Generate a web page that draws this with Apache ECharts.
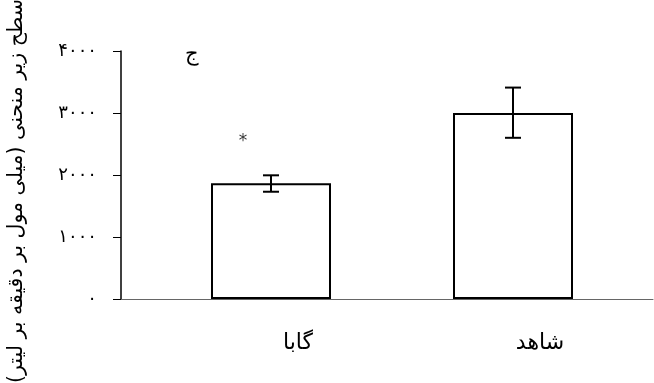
<!DOCTYPE html>
<html><head><meta charset="utf-8">
<script src="https://cdn.jsdelivr.net/npm/echarts@6/dist/echarts.min.js"></script>
<style>html,body{margin:0;padding:0;background:#fff}#c{width:654px;height:383px}</style>
</head><body><div id="c"></div>
<script>
var categories = ['گابا', 'شاهد'];
var means = [1865, 3000];
var errLow = [1730, 2600];
var errHigh = [1995, 3410];
var yTickLabels = {0: '۰', 1000: '۱۰۰۰', 2000: '۲۰۰۰', 3000: '۳۰۰۰', 4000: '۴۰۰۰'};
var starValue = 2600;
var yTitle = 'سطح زیر منحنی (میلی مول بر دقیقه بر لیتر)';
var panelLabel = 'ج';

var font = 'DejaVu Sans';
var chart = echarts.init(document.getElementById('c'), null, {renderer: 'canvas'});
var errData = categories.map(function (c, i) { return [i, errLow[i], errHigh[i]]; });

chart.setOption({
  animation: false,
  textStyle: {fontFamily: font},
  grid: [
    {left: 121, right: 1, top: 51, bottom: 84, outerBoundsMode: 'none', containLabel: false},
    {left: 150, width: 484, top: 51, bottom: 84, outerBoundsMode: 'none', containLabel: false}
  ],
  xAxis: [
    {type: 'category', gridIndex: 0, data: [''], axisLine: {lineStyle: {color: '#666', width: 1}},
     axisTick: {show: false}, axisLabel: {show: false}},
    {type: 'category', gridIndex: 1, data: categories, axisLine: {show: false}, axisTick: {show: false},
     axisLabel: {color: '#000', fontSize: 22, fontFamily: font, margin: 33, padding: [0, 0, 0, 54]}}
  ],
  yAxis: [
    {type: 'value', gridIndex: 0, min: 0, max: 4000, interval: 1000,
     axisLine: {show: true, lineStyle: {color: '#000', width: 1.5}},
     axisTick: {show: true, inside: false, length: 8, lineStyle: {color: '#000', width: 1}},
     splitLine: {show: false},
     axisLabel: {color: '#000', fontSize: 18, fontFamily: font, margin: 24,
       formatter: function (v) { return yTickLabels[v]; }}},
    {type: 'value', gridIndex: 1, min: 0, max: 4000, interval: 1000, show: false, splitLine: {show: false}}
  ],
  series: [
    {type: 'bar', xAxisIndex: 1, yAxisIndex: 1, data: means, barWidth: 120,
     itemStyle: {color: '#fff', borderColor: '#000', borderWidth: 2}},
    {type: 'custom', xAxisIndex: 1, yAxisIndex: 1, data: errData, z: 10,
     renderItem: function (params, api) {
       var x = api.value(0);
       var lo = api.coord([x, api.value(1)]);
       var hi = api.coord([x, api.value(2)]);
       var hw = 8;
       var st = {stroke: '#000', lineWidth: 2};
       return {type: 'group', children: [
         {type: 'line', shape: {x1: lo[0], y1: lo[1], x2: hi[0], y2: hi[1]}, style: st},
         {type: 'line', shape: {x1: lo[0] - hw, y1: lo[1], x2: lo[0] + hw, y2: lo[1]}, style: st},
         {type: 'line', shape: {x1: hi[0] - hw, y1: hi[1], x2: hi[0] + hw, y2: hi[1]}, style: st}
       ]};
     }},
    {type: 'scatter', xAxisIndex: 1, yAxisIndex: 1, symbolSize: 0,
     data: [[0, starValue]],
     label: {show: true, formatter: '*', position: 'inside', offset: [-28, 4], color: '#000', fontSize: 17, fontFamily: font}}
  ],
  graphic: [
    {type: 'text', left: 185, top: 44, style: {text: panelLabel, fontSize: 21, fontFamily: font, fill: '#000'}},
    {type: 'text', x: 17, y: 191, rotation: Math.PI / 2,
     style: {text: yTitle, fontSize: 20.5, fontFamily: font, fill: '#000', align: 'center', verticalAlign: 'middle'}}
  ]
});
</script></body></html>
